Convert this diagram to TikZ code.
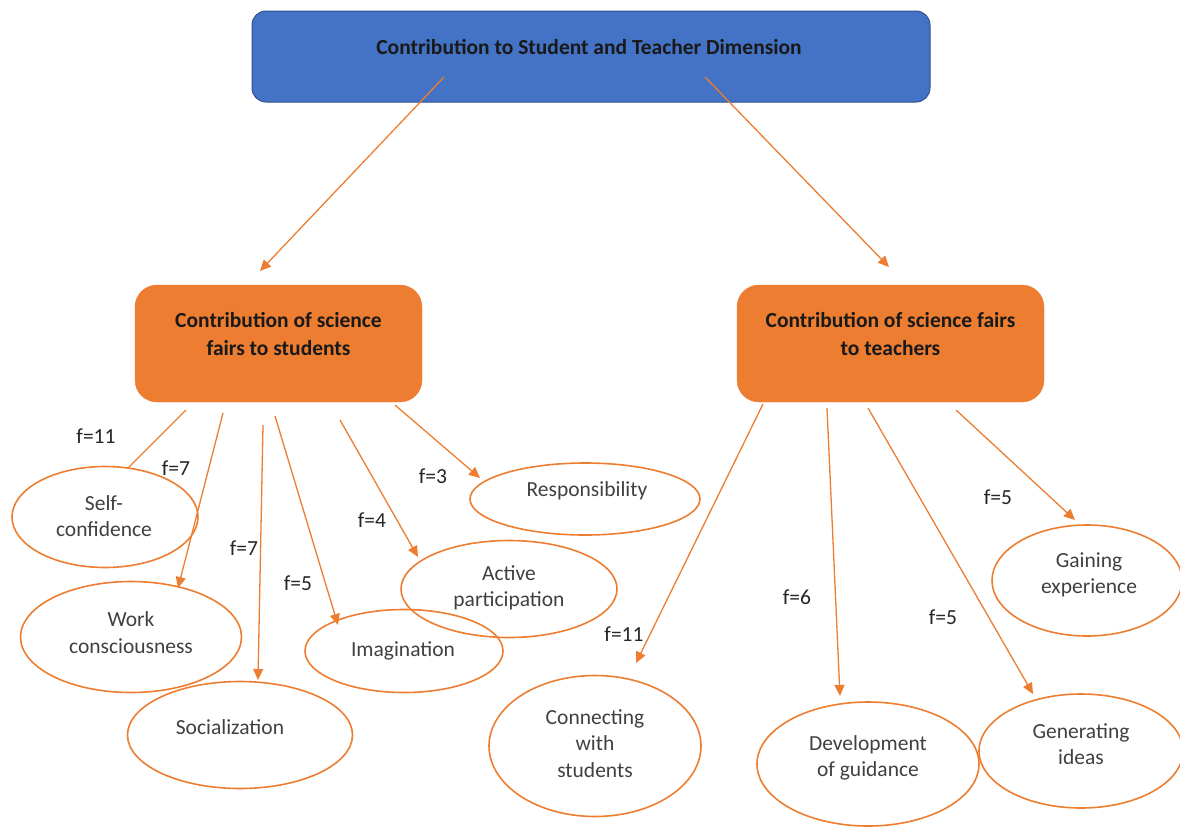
\documentclass[tikz,border=0pt]{standalone}
\usepackage{fontspec}
\setmainfont{Carlito}
\usetikzlibrary{arrows.meta,shapes.geometric}
\definecolor{orng}{HTML}{ED7D31}
\definecolor{blu}{HTML}{4472C4}
\definecolor{bluedge}{HTML}{2F528F}
\definecolor{txtgray}{HTML}{404040}
\definecolor{lblc}{HTML}{262626}
\begin{document}
\begin{tikzpicture}[x=1pt,y=-1pt,
  ell/.style={ellipse, draw=orng, line width=1.6pt, inner sep=0pt},
  etxt/.style={font=\fontsize{21.5}{26.5}\selectfont, text=txtgray, align=center, inner sep=0pt},
  flbl/.style={font=\fontsize{21.5}{26.5}\selectfont, text=lblc, inner sep=0pt},
  hdr/.style={font=\fontsize{21.5}{27.5}\selectfont\bfseries, text=black!90, align=center, inner sep=0pt},
  obox/.style={fill=orng, draw=orng, rounded corners=22pt, inner sep=0pt},
  conn/.style={draw=orng, line width=1.3pt, -{Triangle[length=11pt,width=10pt]}},
  plainconn/.style={draw=orng, line width=1.3pt}]
\useasboundingbox (0,0) rectangle (1180,827);
\clip (0,0) rectangle (1180,827);

% top box
\node[draw=bluedge, fill=blu, line width=1pt, rounded corners=14pt, minimum width=678pt, minimum height=91pt, inner sep=0pt] (top) at (591,56.5) {};
\node[hdr] (toptxt) at (589,47) {Contribution to Student and Teacher Dimension};

% orange boxes
\node[obox, minimum width=287pt, minimum height=117pt] (lbox) at (278.5,343.5) {};
\node[hdr] (lboxtxt) at (278.5,334) {Contribution of science\\fairs to students};
\node[obox, minimum width=307pt, minimum height=117pt] (rbox) at (890.5,343.5) {};
\node[hdr] (rboxtxt) at (890.5,334) {Contribution of science fairs\\to teachers};

% ellipses
\node[ell, minimum width=186pt, minimum height=101pt] (sc) at (105,517) {};
\node[ell, minimum width=221pt, minimum height=111pt] (wc) at (131,637) {};
\node[ell, minimum width=225pt, minimum height=107pt] (soc) at (240,735) {};
\node[ell, minimum width=198pt, minimum height=83pt] (img) at (404,651) {};
\node[ell, minimum width=216pt, minimum height=97pt] (ap) at (509,589) {};
\node[ell, minimum width=230pt, minimum height=72pt] (resp) at (585,499) {};
\node[ell, minimum width=212pt, minimum height=141pt] (cws) at (595,746) {};
\node[ell, minimum width=222pt, minimum height=124pt] (dog) at (868,764) {};
\node[ell, minimum width=204pt, minimum height=114pt] (gi) at (1081,751) {};
\node[ell, minimum width=190pt, minimum height=111pt] (ge) at (1087,580.5) {};

% ellipse texts
\node[etxt] (sct) at (104,516) {Self-\\confidence};
\node[etxt] (wct) at (131,632.5) {Work\\consciousness};
\node[etxt] (soct) at (230,727) {Socialization};
\node[etxt] (imgt) at (403,651) {Imagination};
\node[etxt] (apt) at (509,588) {Active\\participation};
\node[etxt] (respt) at (587,491) {Responsibility};
\node[etxt] (cwst) at (595,743.5) {Connecting\\with\\students};
\node[etxt] (dogt) at (868,758) {Development\\of guidance};
\node[etxt] (git) at (1081,744) {Generating\\ideas};
\node[etxt] (get) at (1089,575) {Gaining\\experience};

% connector end points
\coordinate (t1) at (444,77);   \coordinate (t1e) at (260,271);
\coordinate (t2) at (705,77);   \coordinate (t2e) at (889,267);
\coordinate (l1) at (186,410);  \coordinate (l1e) at (128,468);
\coordinate (l2) at (223,413);  \coordinate (l2e) at (178,588);
\coordinate (l3) at (263,425);  \coordinate (l3e) at (258,680);
\coordinate (l4) at (275,416);  \coordinate (l4e) at (338,625);
\coordinate (l5) at (340,420);  \coordinate (l5e) at (418,557);
\coordinate (l6) at (395,405);  \coordinate (l6e) at (480,478);
\coordinate (r1) at (763,404);  \coordinate (r1e) at (636,663);
\coordinate (r2) at (827,408);  \coordinate (r2e) at (840,696);
\coordinate (r3) at (868,408);  \coordinate (r3e) at (1033,694);
\coordinate (r4) at (956,410);  \coordinate (r4e) at (1075,520);

\draw[conn] (t1) -- (t1e);
\draw[conn] (t2) -- (t2e);
\draw[plainconn] (l1) -- (l1e);
\draw[conn] (l2) -- (l2e);
\draw[conn] (l3) -- (l3e);
\draw[conn] (l4) -- (l4e);
\draw[conn] (l5) -- (l5e);
\draw[conn] (l6) -- (l6e);
\draw[conn] (r1) -- (r1e);
\draw[conn] (r2) -- (r2e);
\draw[conn] (r3) -- (r3e);
\draw[conn] (r4) -- (r4e);

% frequency labels
\node[flbl] (f1) at (96,436) {f=11};
\node[flbl] (f2) at (176,468) {f=7};
\node[flbl] (f3) at (244,548) {f=7};
\node[flbl] (f4) at (298,583) {f=5};
\node[flbl] (f5) at (372,520) {f=4};
\node[flbl] (f6) at (433,476) {f=3};
\node[flbl] (f7) at (624,634) {f=11};
\node[flbl] (f8) at (797,597) {f=6};
\node[flbl] (f9) at (943,617) {f=5};
\node[flbl] (f10) at (998,497) {f=5};
\end{tikzpicture}
\end{document}
